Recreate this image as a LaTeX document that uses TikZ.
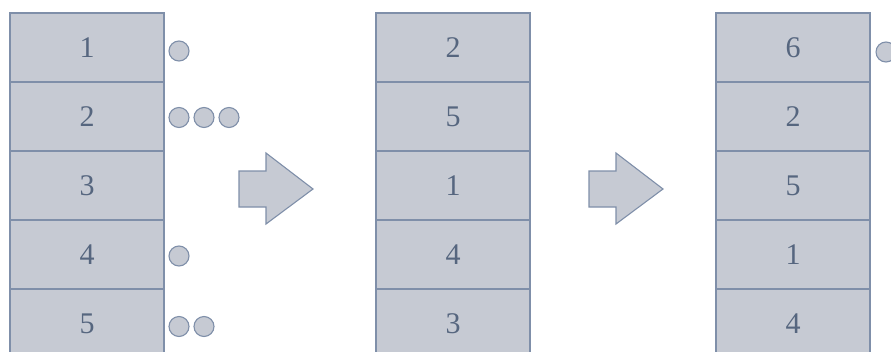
\documentclass[tikz,border=0pt]{standalone}
\usepackage{fontspec}
\setmainfont{Liberation Serif}
\usetikzlibrary{calc}
\definecolor{slotline}{HTML}{7F8FA9}
\definecolor{slotfill}{HTML}{C6CAD3}
\definecolor{slottop}{HTML}{F0F1F4}
\definecolor{slottext}{HTML}{56667F}
\pgfdeclareverticalshading{slotshade}{100bp}{color(0bp)=(slotfill); color(78bp)=(slotfill); color(100bp)=(slottop)}

\begin{document}
\begin{tikzpicture}[x=1pt, y=-1pt, inner sep=0pt,
	slot/.style={rectangle, draw=slotline, line width=1.2pt, shading=slotshade,
		minimum width=154pt, minimum height=69pt, text=slottext, font=\fontsize{30}{30}\selectfont},
	ball/.style={circle, draw=slotline, line width=1.1pt, shading=slotshade, minimum size=20pt},
	step arrow/.style={draw=slotline, line width=1.1pt, shading=slotshade, line join=miter}]
		\useasboundingbox (0,0) rectangle (891,351);

		\node[slot](A1) at (87,47.5) {1};
		\node[slot](A2) at (87,116.5) {2};
		\node[slot](A3) at (87,185.5) {3};
		\node[slot](A4) at (87,254.5) {4};
		\node[slot](A5) at (87,323.5) {5};

		\node[ball](a1) at (179,51) {};
		\node[ball](a2) at (179,117.5) {};
		\node[ball](a3) at (204,117.5) {};
		\node[ball](a4) at (229,117.5) {};
		\node[ball](a5) at (179,256) {};
		\node[ball](a6) at (179,326.5) {};
		\node[ball](a7) at (204,326.5) {};

		\node[slot](B1) at (453,47.5) {2};
		\node[slot](B2) at (453,116.5) {5};
		\node[slot](B3) at (453,185.5) {1};
		\node[slot](B4) at (453,254.5) {4};
		\node[slot](B5) at (453,323.5) {3};

		\node[slot](C1) at (793,47.5) {6};
		\node[slot](C2) at (793,116.5) {2};
		\node[slot](C3) at (793,185.5) {5};
		\node[slot](C4) at (793,254.5) {1};
		\node[slot](C5) at (793,323.5) {4};

		\node[ball](c1) at (886,52) {};

		% block arrows between the columns
		\path[step arrow] (239,171) -- (266,171) -- (266,153) -- (313,189)
			-- (266,224) -- (266,207) -- (239,207) -- cycle;
		\path[step arrow] (589,171) -- (616,171) -- (616,153) -- (663,189)
			-- (616,224) -- (616,207) -- (589,207) -- cycle;
	\end{tikzpicture}
\end{document}
